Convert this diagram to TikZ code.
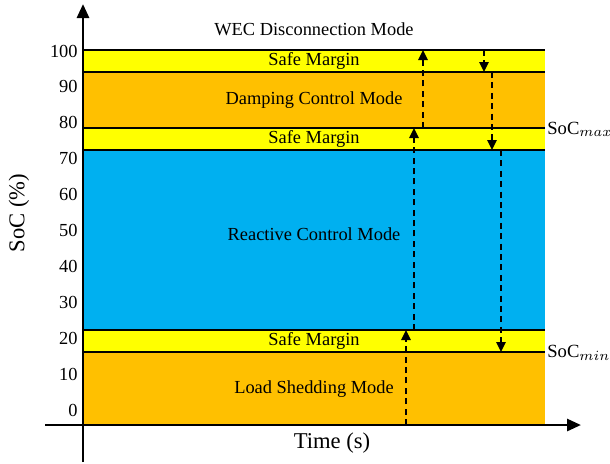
\documentclass[tikz,border=0pt]{standalone}
\usepackage{fontspec}
\setmainfont{Liberation Serif}
\usetikzlibrary{arrows.meta}
\definecolor{yel}{HTML}{FFFF00}
\definecolor{org}{HTML}{FFC000}
\definecolor{blu}{HTML}{00B0F0}
\begin{document}
\begin{tikzpicture}[x=0.5pt,y=-0.5pt,
  bandline/.style={line width=0.75pt},
  axisline/.style={line width=1.4pt,-{Triangle[length=7pt,width=6pt]}},
  trans/.style={line width=1.2pt,dash pattern=on 3pt off 2.2pt,-{Triangle[length=5pt,width=4.6pt]}},
  lbl/.style={font=\fontsize{9.2}{10}\selectfont,inner sep=0pt},
  tick/.style={font=\fontsize{9.2}{10}\selectfont,anchor=east,inner sep=0pt},
  axlbl/.style={font=\fontsize{11.3}{13}\selectfont,inner sep=0pt},
  soc/.style={font=\fontsize{9.3}{11}\selectfont,anchor=west,inner sep=0pt}]
\useasboundingbox (0,0) rectangle (610,463);
% bands
\fill[yel] (83,50) rectangle (545,72);
\fill[org] (83,72) rectangle (545,128);
\fill[yel] (83,128) rectangle (545,150);
\fill[blu] (83,150) rectangle (545,330);
\fill[yel] (83,330) rectangle (545,352);
\fill[org] (83,352) rectangle (545,425);
\foreach \yy in {50,72,128,150,330,352}
  \draw[bandline] (83,\yy) -- (545,\yy);
% axes
\coordinate (yb) at (83,462);
\coordinate (yt) at (83,4);
\coordinate (xl) at (45,425);
\coordinate (xr) at (581,425);
\draw[axisline] (yb) -- (yt);
\draw[axisline] (xl) -- (xr);
% tick labels
\foreach \v in {0,10,...,100}
  \node[tick] (t\v) at (78,{51+(100-\v)*3.59}) {\v};
% labels
\node[lbl] (wec) at (314,29) {WEC Disconnection Mode};
\node[lbl] (sm1) at (314,61) {Safe Margin};
\node[lbl] (dcm) at (314,100) {Damping Control Mode};
\node[lbl] (sm2) at (314,139) {Safe Margin};
\node[lbl] (rcm) at (314,234) {Reactive Control Mode};
\node[lbl] (sm3) at (314,341) {Safe Margin};
\node[lbl] (lsm) at (314,389) {Load Shedding Mode};
\node[axlbl,rotate=90] (ylab) at (19,213) {SoC (\%)};
\node[axlbl] (xlab) at (332,443) {Time (s)};
\node[soc] (smax) at (547,129) {$\mathrm{SoC}_{max}$};
\node[soc] (smin) at (547,353) {$\mathrm{SoC}_{min}$};
% transition arrows
\coordinate (a1s) at (423,128); \coordinate (a1e) at (423,50);
\coordinate (a2s) at (414,330); \coordinate (a2e) at (414,128);
\coordinate (a3s) at (406,425); \coordinate (a3e) at (406,330);
\coordinate (d1s) at (484,50);  \coordinate (d1e) at (484,72);
\coordinate (d2s) at (492,72);  \coordinate (d2e) at (492,150);
\coordinate (d3s) at (501,150); \coordinate (d3e) at (501,352);
\draw[trans] (a1s) -- (a1e);
\draw[trans] (a2s) -- (a2e);
\draw[trans] (a3s) -- (a3e);
\draw[trans] (d1s) -- (d1e);
\draw[trans] (d2s) -- (d2e);
\draw[trans] (d3s) -- (d3e);
\end{tikzpicture}
\end{document}
